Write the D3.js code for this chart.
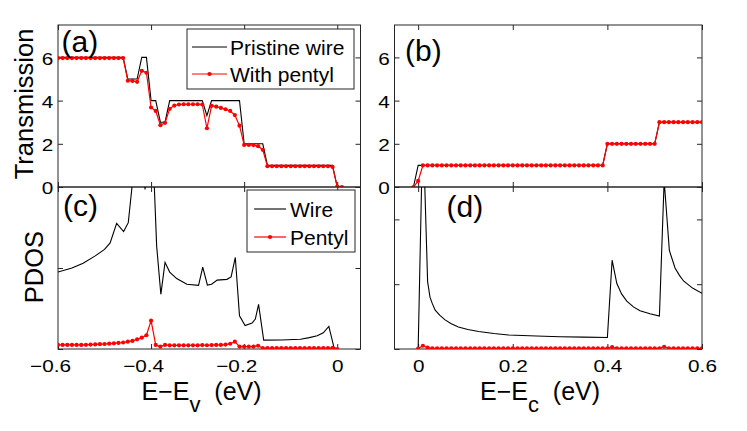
<!DOCTYPE html>
<html><head><meta charset="utf-8">
<script src="https://cdn.jsdelivr.net/npm/d3@7"></script>
<style>
body{margin:0;background:#fff}
text{font-family:"Liberation Sans",Arial,Helvetica,sans-serif;fill:#000}
</style>
</head><body>
<svg id="chart" width="747" height="431"></svg>
<script>
// ---------- DATA ----------
// valence-band energies (panels a, c)
const energyV = [-0.60,-0.59,-0.58,-0.57,-0.56,-0.55,-0.54,-0.53,-0.52,-0.51,-0.50,-0.49,-0.48,-0.47,-0.46,-0.45,-0.44,-0.43,-0.42,-0.41,-0.40,-0.39,-0.38,-0.37,-0.36,-0.35,-0.34,-0.33,-0.32,-0.31,-0.30,-0.29,-0.28,-0.27,-0.26,-0.25,-0.24,-0.23,-0.22,-0.21,-0.20,-0.19,-0.18,-0.17,-0.16,-0.15,-0.14,-0.13,-0.12,-0.11,-0.10,-0.09,-0.08,-0.07,-0.06,-0.05,-0.04,-0.03,-0.02,-0.01,0.00,0.01];
const transPristineA = [6,6,6,6,6,6,6,6,6,6,6,6,6,6,6,5,5,5,6,6,4,4,3,3,4,4,4,4,4,4,4,4,3.3,4,4,4,4,4,4,4,2,2,2,2,2,1,1,1,1,1,1,1,1,1,1,1,1,1,1,1,0,0];
const transPentylA = [5.97,5.97,5.97,5.97,5.97,5.97,5.97,5.97,5.97,5.97,5.97,5.97,5.97,5.97,5.97,4.92,4.91,4.87,5.38,5.29,3.68,3.52,2.86,2.97,3.62,3.77,3.82,3.83,3.83,3.83,3.83,3.82,2.72,3.76,3.72,3.66,3.60,3.52,3.33,2.84,1.95,1.95,1.94,1.89,1.72,0.96,0.96,0.96,0.96,0.96,0.96,0.96,0.96,0.96,0.96,0.96,0.96,0.96,0.96,0.93,0.02,0.0];
const pdosPentylC = [0.05,0.05,0.05,0.05,0.05,0.05,0.052,0.055,0.057,0.06,0.062,0.066,0.07,0.075,0.08,0.09,0.10,0.12,0.14,0.17,0.35,0.05,0.03,0.05,0.045,0.045,0.045,0.045,0.045,0.045,0.045,0.048,0.046,0.048,0.05,0.05,0.055,0.065,0.09,0.03,0.03,0.03,0.03,0.04,0.012,0.012,0.012,0.012,0.012,0.012,0.012,0.012,0.012,0.012,0.012,0.012,0.012,0.012,0.012,0.015,0.0];
// wire PDOS (panel c), vertices
const wireEnergyC = [-0.600,-0.570,-0.546,-0.520,-0.500,-0.488,-0.474,-0.459,-0.449,-0.441,-0.430,-0.420,-0.413,-0.406,-0.395,-0.393,-0.388,-0.379,-0.370,-0.360,-0.345,-0.323,-0.298,-0.289,-0.279,-0.270,-0.258,-0.237,-0.228,-0.219,-0.210,-0.198,-0.183,-0.176,-0.169,-0.158,-0.120,-0.079,-0.060,-0.043,-0.030,-0.018,-0.007,0.000];
const wirePdosC = [0.95,1.00,1.06,1.15,1.23,1.31,1.55,1.45,1.56,2.0,2.6,2.6,1.97,2.6,2.5,2.0,1.27,0.675,1.07,0.95,0.87,0.80,0.785,1.01,0.79,0.80,0.85,0.86,0.89,1.13,0.41,0.29,0.32,0.37,0.55,0.11,0.112,0.12,0.14,0.163,0.2,0.28,0.02,0.0];

// conduction-band energies (panels b, d)
const energyC = [-0.01,0.00,0.01,0.02,0.03,0.04,0.05,0.06,0.07,0.08,0.09,0.10,0.11,0.12,0.13,0.14,0.15,0.16,0.17,0.18,0.19,0.20,0.21,0.22,0.23,0.24,0.25,0.26,0.27,0.28,0.29,0.30,0.31,0.32,0.33,0.34,0.35,0.36,0.37,0.38,0.39,0.40,0.41,0.42,0.43,0.44,0.45,0.46,0.47,0.48,0.49,0.50,0.51,0.52,0.53,0.54,0.55,0.56,0.57,0.58,0.59,0.60];
const transPristineB = [0,1,1,1,1,1,1,1,1,1,1,1,1,1,1,1,1,1,1,1,1,1,1,1,1,1,1,1,1,1,1,1,1,1,1,1,1,1,1,1,1,2,2,2,2,2,2,2,2,2,2,2,3,3,3,3,3,3,3,3,3,3];
const transPentylB = [0,0.28,1,1,1,1,1,1,1,1,1,1,1,1,1,1,1,1,1,1,1,1,1,1,1,1,1,1,1,1,1,1,1,1,1,1,1,1,1,1,1,2,2,2,2,2,2,2,2,2,2,2,3,3,3,3,3,3,3,3,3,3];
const pdosPentylD = [0,0.005,0.05,0.02,0.01,0.01,0.01,0.01,0.01,0.01,0.01,0.01,0.01,0.01,0.01,0.01,0.01,0.01,0.01,0.01,0.01,0.01,0.01,0.01,0.01,0.01,0.01,0.01,0.01,0.01,0.01,0.01,0.01,0.01,0.01,0.01,0.01,0.01,0.01,0.01,0.01,0.01,0.03,0.01,0.01,0.01,0.01,0.01,0.01,0.01,0.01,0.01,0.01,0.035,0.01,0.01,0.01,0.01,0.01,0.01,0.01,0.01];
// wire PDOS (panel d), vertices
const wireEnergyD = [0.000,0.010,0.020,0.025,0.030,0.036,0.046,0.057,0.070,0.085,0.105,0.128,0.160,0.191,0.250,0.300,0.350,0.400,0.410,0.420,0.430,0.441,0.455,0.469,0.490,0.510,0.520,0.531,0.543,0.552,0.561,0.580,0.600];
const wirePdosD = [0,3.5,1.04,0.80,0.70,0.60,0.52,0.45,0.39,0.34,0.30,0.27,0.24,0.217,0.20,0.19,0.183,0.178,1.37,1.01,0.85,0.74,0.65,0.59,0.545,0.51,2.6,1.52,1.25,1.14,1.05,0.94,0.86];

const ticksV = [-0.6,-0.4,-0.2,0];
const ticksC = [0,0.2,0.4,0.6];
const ticksT = [0,2,4,6];
const ticksP = [0,1,2];

// ---------- DRAW ----------
const svg = d3.select("#chart");
const axisCol = "#262626";

const xV = d3.scaleLinear().domain([-0.6,0.05]).range([58,360.5]);
const xC = d3.scaleLinear().domain([-0.05,0.6]).range([394.5,702]);
const yT = d3.scaleLinear().domain([0,7.5]).range([187,25]);
const yPc = d3.scaleLinear().domain([0,2]).range([349,187]);
const yPd = d3.scaleLinear().domain([0,2.5]).range([349,187]);

const fmtX = d => d === 0 ? "0" : d3.format(".1f")(d);
const fmtY = d => d3.format("d")(d);

function panel(id, x, y, xt, yt, showX, showY){
  const [x0,x1] = x.range(), [y1,y0] = y.range();
  svg.append("clipPath").attr("id","clip-"+id)
    .append("rect").attr("x",x0).attr("y",y0).attr("width",x1-x0).attr("height",y1-y0);
  const g = svg.append("g");
  const mk = (ax, tr) => {
    const a = g.append("g").attr("transform",tr).call(ax);
    a.select(".domain").remove();
    a.selectAll("line").attr("stroke",axisCol);
    return a;
  };
  const b = mk(d3.axisBottom(x).tickValues(xt).tickSize(-5).tickFormat(showX?fmtX:""), `translate(0,${y1})`);
  if(showX){
    b.selectAll("text").attr("font-size",17).attr("y",23.5).attr("dy",0)
      .attr("transform","scale(1.22,1)")
      .attr("dx", d => d < 0 ? -6.5 : 0);
  }
  mk(d3.axisTop(x).tickValues(xt).tickSize(-5).tickFormat(""), `translate(0,${y0})`);
  const l = mk(d3.axisLeft(y).tickValues(yt).tickSize(-5).tickFormat(showY?fmtY:""), `translate(${x0},0)`);
  if(showY){
    l.selectAll("text").attr("font-size",17).attr("x",-3.8).attr("dy","0.4em")
      .attr("text-anchor","end")
      .attr("transform","scale(1.22,1)");
  }
  mk(d3.axisRight(y).tickValues(yt).tickSize(-5).tickFormat(""), `translate(${x1},0)`);
  g.selectAll("text").attr("fill","#000").attr("font-family",'"Liberation Sans",Arial,sans-serif');
  g.append("rect").attr("x",x0).attr("y",y0).attr("width",x1-x0).attr("height",y1-y0)
    .attr("fill","none").attr("stroke",axisCol).attr("stroke-width",1);
  return svg.append("g").attr("clip-path",`url(#clip-${id})`);
}

function blackLine(g, xs, ys, x, y){
  g.append("path").datum(xs.map((e,i)=>[e,ys[i]]))
    .attr("fill","none").attr("stroke","#000").attr("stroke-width",1.1)
    .attr("d", d3.line().x(d=>x(d[0])).y(d=>y(d[1])));
}
function redLine(g, xs, ys, x, y){
  const data = xs.map((e,i)=>[e,ys[i]]).filter(d=>d[1]!==undefined);
  g.append("path").datum(data)
    .attr("fill","none").attr("stroke","#ff0000").attr("stroke-width",1.2)
    .attr("d", d3.line().x(d=>x(d[0])).y(d=>y(d[1])));
  g.selectAll(null).data(data).enter().append("circle")
    .attr("cx",d=>x(d[0])).attr("cy",d=>y(d[1])).attr("r",2.1).attr("fill","#ff0000");
}

// (a)
const gA = panel("a", xV, yT, ticksV, ticksT, false, true);
blackLine(gA, energyV, transPristineA, xV, yT);
redLine(gA, energyV, transPentylA, xV, yT);
// (b)
const gB = panel("b", xC, yT, ticksC, ticksT, false, true);
blackLine(gB, energyC, transPristineB, xC, yT);
redLine(gB, energyC, transPentylB, xC, yT);
// (c)
const gC = panel("c", xV, yPc, ticksV, ticksP, true, false);
blackLine(gC, wireEnergyC, wirePdosC, xV, yPc);
redLine(gC, energyV.slice(0,61), pdosPentylC, xV, yPc);
// (d)
const gD = panel("d", xC, yPd, ticksC, ticksP, true, false);
blackLine(gD, wireEnergyD, wirePdosD, xC, yPd);
redLine(gD, energyC.slice(1), pdosPentylD.slice(1), xC, yPd);

// panel letters
[["(a)",61.5,52],["(b)",405,61],["(c)",63,215.5],["(d)",446.5,217]].forEach(([t,x,y])=>{
  svg.append("text").attr("x",x).attr("y",y).attr("font-size",30).text(t);
});

// axis labels
svg.append("text").attr("transform","translate(33,104) rotate(-90)")
  .attr("text-anchor","middle").attr("font-size",25.5).text("Transmission");
svg.append("text").attr("transform","translate(43,267) rotate(-90)")
  .attr("text-anchor","middle").attr("font-size",25.5).text("PDOS");
function xLabel(x, sub){
  const t = svg.append("text").attr("x",x).attr("y",399.5).attr("font-size",25);
  t.append("tspan").text("E\u2212E");
  t.append("tspan").attr("dy",12.5).attr("font-size",22).text(sub);
  t.append("tspan").attr("dy",-12.5).text("\u00a0\u00a0(eV)");
}
xLabel(141.5, "v");
xLabel(480, "c");

// legends
function legend(x, y, w, h, rows){
  svg.append("rect").attr("x",x).attr("y",y).attr("width",w).attr("height",h)
    .attr("fill","#fff").attr("stroke",axisCol).attr("stroke-width",1);
  rows.forEach(r=>{
    svg.append("line").attr("x1",r.lx0).attr("x2",r.lx1).attr("y1",r.y).attr("y2",r.y)
      .attr("stroke",r.color).attr("stroke-width",r.color==="#000"?1.1:1.2);
    if(r.marker) svg.append("circle").attr("cx",(r.lx0+r.lx1)/2).attr("cy",r.y).attr("r",2.1).attr("fill",r.color);
    svg.append("text").attr("x",r.tx).attr("y",r.y).attr("dy","0.36em").attr("font-size",21).text(r.label);
  });
}
legend(187,29,167,60,[
  {label:"Pristine wire",color:"#000",y:47,lx0:192,lx1:227,tx:230,marker:false},
  {label:"With pentyl",color:"#ff0000",y:74,lx0:192,lx1:227,tx:230,marker:true}
]);
legend(247,190,108,62,[
  {label:"Wire",color:"#000",y:209,lx0:254,lx1:286,tx:290,marker:false},
  {label:"Pentyl",color:"#ff0000",y:237,lx0:254,lx1:286,tx:290,marker:true}
]);
</script>
</body></html>
